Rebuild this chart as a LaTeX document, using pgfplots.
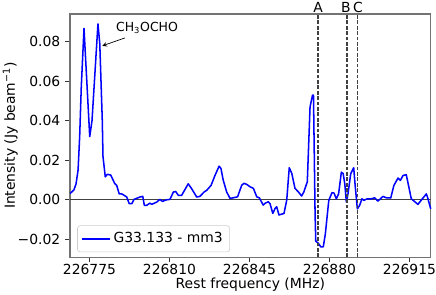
\documentclass[border=0pt]{standalone}
\usepackage{fontspec}
\setmainfont{DejaVu Sans}
\usepackage{pgfplots}
\pgfplotsset{compat=1.18}
\begin{document}
\begin{tikzpicture}
\begin{axis}[
 name=ax,
 scale only axis, width=259.7pt, height=175pt,
 xmin=226766.47, xmax=226924.3, ymin=-0.029, ymax=0.094,
 scaled ticks=false,
 xtick={226775,226810,226845,226880,226915},
 xticklabels={226775,226810,226845,226880,226915},
 ytick={-0.02,0,0.02,0.04,0.06,0.08},
 yticklabels={−0.02,0.00,0.02,0.04,0.06,0.08},
 tick align=outside, xtick pos=bottom, ytick pos=left,
 major tick length=3.5pt,
 every tick/.style={black!80, line width=0.6pt},
 axis line style={black!55, line width=0.8pt},
 xticklabel style={yshift=2pt},
 xlabel={Rest frequency (MHz)},
 xlabel style={yshift=4.5pt},
 ylabel={Intensity (Jy beam\textsuperscript{−1})},
 ylabel style={yshift=-7pt},
 clip=false,
 legend style={at={(0.02,0.02)}, anchor=south west, draw=black!20, rounded corners=2pt, inner sep=3pt},
 legend cell align=left,
]
\addplot[black!75, line width=0.6pt, forget plot] coordinates {(226766.47,0) (226924.3,0)};
\addplot[blue, line width=1.1pt, line join=round, forget plot] coordinates {
(226766.47,0.0032) (226767.0,0.0037) (226768.2,0.0050) (226769.1,0.0080) (226770.0,0.0150)
(226770.7,0.0320) (226771.4,0.0570) (226772.6,0.0867) (226775.1,0.0320) (226776.1,0.0400)
(226778.7,0.0890) (226779.5,0.0790) (226780.6,0.0400) (226780.9,0.0220) (226781.9,0.0116)
(226782.8,0.0129) (226784.3,0.0125) (226786.0,0.0083) (226786.9,0.0073) (226788.0,0.0030)
(226789.1,0.0030) (226791.3,0.0014) (226792.4,-0.0020) (226793.5,-0.0020) (226794.5,0.0002)
(226797.1,0.0014) (226798.3,0.0017) (226799.0,-0.0028) (226800.0,-0.0028) (226801.5,-0.0017)
(226802.2,-0.0023) (226804.4,-0.0012) (226805.8,0.0002) (226806.9,-0.0008) (226808.8,0.0000)
(226810.2,0.0002) (226811.7,0.0039) (226812.7,0.0042) (226813.9,0.0022) (226815.3,0.0022)
(226818.2,0.0081) (226819.7,0.0056) (226821.9,0.0014) (226823.3,0.0017) (226825.1,0.0039)
(226826.3,0.0048) (226828.2,0.0073) (226829.9,0.0123) (226831.7,0.0170) (226832.5,0.0159)
(226833.5,0.0100) (226835.0,0.0040) (226836.5,0.0007) (226837.9,0.0010) (226839.8,0.0015)
(226841.6,0.0074) (226842.6,0.0083) (226843.8,0.0078) (226845.2,0.0066) (226846.7,0.0058)
(226848.2,0.0015) (226849.3,0.0010) (226851.0,-0.0027) (226851.8,-0.0018) (226853.2,-0.0010)
(226854.0,-0.0020) (226855.2,-0.0069) (226856.2,-0.0044) (226856.9,-0.0035) (226857.9,-0.0077)
(226860.1,-0.0069) (226861.3,-0.0002) (226862.4,0.0162) (226863.5,0.0134) (226864.9,0.0058)
(226866.4,0.0040) (226867.8,0.0019) (226868.8,0.0040) (226870.3,0.0091) (226871.5,0.0470)
(226872.6,0.0530) (226873.0,0.0530) (226873.7,-0.0069) (226874.0,-0.0209) (226875.1,-0.0220)
(226876.2,-0.0238) (226877.3,-0.0238) (226878.2,-0.0172) (226879.7,-0.0003) (226881.1,0.0036)
(226882.0,0.0034) (226883.0,0.0005) (226884.0,0.0030) (226885.2,0.0140) (226886.0,0.0132)
(226886.7,0.0081) (226887.4,-0.0012) (226888.1,0.0030) (226889.3,0.0132) (226890.6,0.0162)
(226891.3,0.0064) (226892.2,-0.0046) (226893.2,-0.0028) (226894.2,0.0005) (226895.1,-0.0003)
(226896.5,0.0005) (226898.3,0.0005) (226899.8,0.0010) (226901.2,-0.0007) (226903.4,0.0017)
(226904.9,0.0010) (226906.8,0.0009) (226908.2,0.0073) (226910.0,0.0110) (226911.0,0.0098)
(226912.2,0.0123) (226913.6,0.0127) (226915.8,0.0005) (226918.7,-0.0023) (226922.4,0.0030)
(226923.1,0.0005) (226924.3,-0.0046)
};
\addlegendimage{blue, line width=1.1pt, legend image code/.code={\draw[blue, line width=1.1pt] (0cm,0cm) -- (0.7cm,0cm);}}
\addlegendentry{G33.133 - mm3}
\addplot[black!75, dash pattern=on 2.7pt off 1.2pt, line width=1.1pt, forget plot] coordinates {(226875,-0.029) (226875,0.094)};
\addplot[black!75, dash pattern=on 2.7pt off 1.2pt, line width=1.1pt, forget plot] coordinates {(226887.7,-0.029) (226887.7,0.094)};
\addplot[black!75, dash pattern=on 2.7pt off 1.2pt, line width=1.1pt, forget plot] coordinates {(226892.3,-0.029) (226892.3,0.094)};
\node[anchor=base, inner sep=0pt, yshift=1.2pt] at (axis cs:226875,0.094) {A};
\node[anchor=base, inner sep=0pt, yshift=1.2pt] at (axis cs:226887.2,0.094) {B};
\node[anchor=base, inner sep=0pt, yshift=1.2pt] at (axis cs:226892.5,0.094) {C};
\node[anchor=west, inner sep=0pt, font=\fontsize{9}{11}\selectfont] at (axis cs:226786.5,0.0868) {CH\textsubscript{3}OCHO};
\draw[-stealth, black, line width=0.5pt] (axis cs:226790.5,0.0819) -- (axis cs:226780.6,0.0779);
\end{axis}
\pgfresetboundingbox
\path ([shift={(-50.4pt,-26.6pt)}]ax.south west) rectangle ([shift={(3.8pt,10.1pt)}]ax.north east);
\end{tikzpicture}
\end{document}
